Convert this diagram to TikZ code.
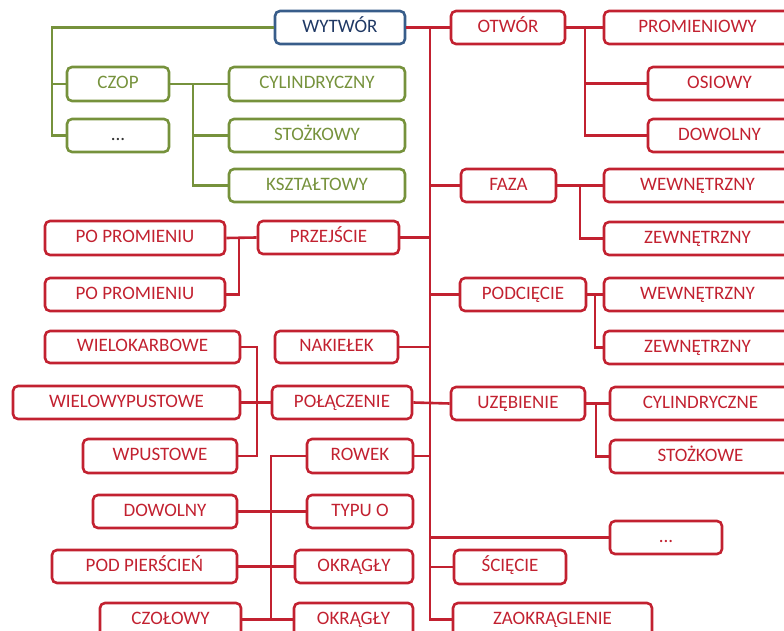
\documentclass[tikz,border=0pt]{standalone}
\usepackage{fontspec}
\setmainfont{Carlito}
\definecolor{rd}{RGB}{194,33,48}
\definecolor{gr}{RGB}{118,146,60}
\definecolor{bl}{RGB}{56,93,138}
\definecolor{blt}{RGB}{31,56,100}
\newcommand\B[7][]{\node[box,#1,minimum width={#5-#3},minimum height={#6-#4}] (#2) at ({(#3+#5)/2},{(#4+#6)/2}) {#7};}
\begin{document}
\begin{tikzpicture}[x=1pt,y=-1pt,
  box/.style={draw=rd,text=rd,line width=2.6pt,rounded corners=5pt,inner sep=0pt,text height=13.2pt,text depth=4pt,font=\fontsize{19}{20}\selectfont},
  gbox/.style={draw=gr,text=gr},
  bbox/.style={draw=bl,text=blt},
  rl/.style={draw=rd,line width=2.6pt},
  gl/.style={draw=gr,line width=2.6pt}]
\useasboundingbox (0,0) rectangle (784,631);
\clip (0,0) rectangle (784,631);
% green part
\B[bbox]{wyt}{275}{11}{405}{44}{WYTWÓR}
\B[gbox]{czop}{67}{67}{169}{101}{CZOP}
\B[gbox,text=black!80]{gdots}{67}{119}{169}{152}{...}
\B[gbox]{cyl}{229}{67}{405}{101}{CYLINDRYCZNY}
\B[gbox]{sto}{229}{119}{405}{152}{STOŻKOWY}
\B[gbox]{ksz}{229}{169}{405}{202}{KSZTAŁTOWY}
% red right
\B{otw}{451}{11}{565}{44}{OTWÓR}
\B{prom}{604}{11}{791}{44}{PROMIENIOWY}
\B{osi}{648}{67}{791}{100}{OSIOWY}
\B{dow}{648}{119}{791}{152}{DOWOLNY}
\B{faza}{461}{169}{556}{202}{FAZA}
\B{wew1}{604}{169}{791}{202}{WEWNĘTRZNY}
\B{zew1}{604}{222}{791}{255}{ZEWNĘTRZNY}
\B{podc}{460}{278}{586}{311}{PODCIĘCIE}
\B{wew2}{604}{278}{791}{311}{WEWNĘTRZNY}
\B{zew2}{604}{331}{791}{364}{ZEWNĘTRZNY}
\B{uzeb}{451}{387}{585}{420}{UZĘBIENIE}
\B{cylr}{610}{387}{791}{420}{CYLINDRYCZNE}
\B{stoz}{610}{440}{791}{473}{STOŻKOWE}
\B{rdots}{610}{521}{722}{554}{...}
\B{scie}{454}{550}{566}{584}{ŚCIĘCIE}
\B{zaok}{453}{603}{652}{636}{ZAOKRĄGLENIE}
% red left
\B{przej}{258}{221}{399}{254}{PRZEJŚCIE}
\B{pp1}{45}{221}{225}{255}{PO PROMIENIU}
\B{pp2}{45}{278}{225}{311}{PO PROMIENIU}
\B{wielok}{45}{331}{240}{363}{WIELOKARBOWE}
\B{nakiel}{275}{331}{398}{363}{NAKIEŁEK}
\B{wielow}{13}{386}{240}{419}{WIELOWYPUSTOWE}
\B{polacz}{272}{386}{412}{419}{POŁĄCZENIE}
\B{wpust}{83}{439}{237}{473}{WPUSTOWE}
\B{rowek}{307}{439}{413}{473}{ROWEK}
\B{dowl}{93}{495}{237}{528}{DOWOLNY}
\B{typuo}{307}{495}{413}{528}{TYPU O}
\B{podp}{52}{550}{237}{583}{POD PIERŚCIEŃ}
\B{okr1}{295}{550}{413}{583}{OKRĄGŁY}
\B{czol}{100}{603}{241}{636}{CZOŁOWY}
\B{okr2}{294}{603}{413}{636}{OKRĄGŁY}
% junction coordinates
\coordinate (gA) at (52,27.5);
\coordinate (cA) at (193,84);
\coordinate (rT) at (430,27.5);
\coordinate (rB) at (430,619.5);
\coordinate (oA) at (585,27.5);
\coordinate (fA) at (580,185.5);
\coordinate (pA) at (595,294.5);
\coordinate (uA) at (596,403.5);
\coordinate (lA) at (239,237.5);
\coordinate (wA) at (257,347);
\coordinate (kA) at (271,456);
% green connectors
\draw[gl] (wyt.west) -- (gA) |- (gdots.west);
\draw[gl] (czop.west) -- (czop.west -| gA);
\draw[gl] (czop.east) -- (cyl.west);
\draw[gl] (cA) |- (sto.west);
\draw[gl] (cA) |- (ksz.west);
% red trunk
\draw[rl] (wyt.east) -- (otw.west);
\draw[rl] (rT) -- (rB) -- (zaok.west);
\draw[rl] (faza.west) -- (faza.west -| rT);
\draw[rl] (przej.east) -- (przej.east -| rT);
\draw[rl] (podc.west) -- (podc.west -| rT);
\draw[rl] (nakiel.east) -- (nakiel.east -| rT);
\draw[rl] (polacz.east) -- (uzeb.west);
\draw[rl] (rowek.east) -- (rowek.east -| rT);
\draw[rl] (rdots.west) -- (rdots.west -| rT);
\draw[rl] (scie.west) -- (scie.west -| rT);
% right sub-branches
\draw[rl] (otw.east) -- (prom.west);
\draw[rl] (oA) |- (osi.west);
\draw[rl] (oA) |- (dow.west);
\draw[rl] (faza.east) -- (wew1.west);
\draw[rl] (fA) |- (zew1.west);
\draw[rl] (podc.east) -- (wew2.west);
\draw[rl] (pA) |- (zew2.west);
\draw[rl] (uzeb.east) -- (cylr.west);
\draw[rl] (uA) |- (stoz.west);
% left sub-branches
\draw[rl] (przej.west) -- (pp1.east);
\draw[rl] (lA) |- (pp2.east);
\draw[rl] (wielok.east) -- (wA) |- (wpust.east);
\draw[rl] (wielow.east) -- (polacz.west);
\draw[rl] (rowek.west) -- (kA) -- (kA |- okr2.west);
\draw[rl] (dowl.east) -- (typuo.west);
\draw[rl] (podp.east) -- (okr1.west);
\draw[rl] (czol.east) -- (okr2.west);
\end{tikzpicture}
\end{document}
